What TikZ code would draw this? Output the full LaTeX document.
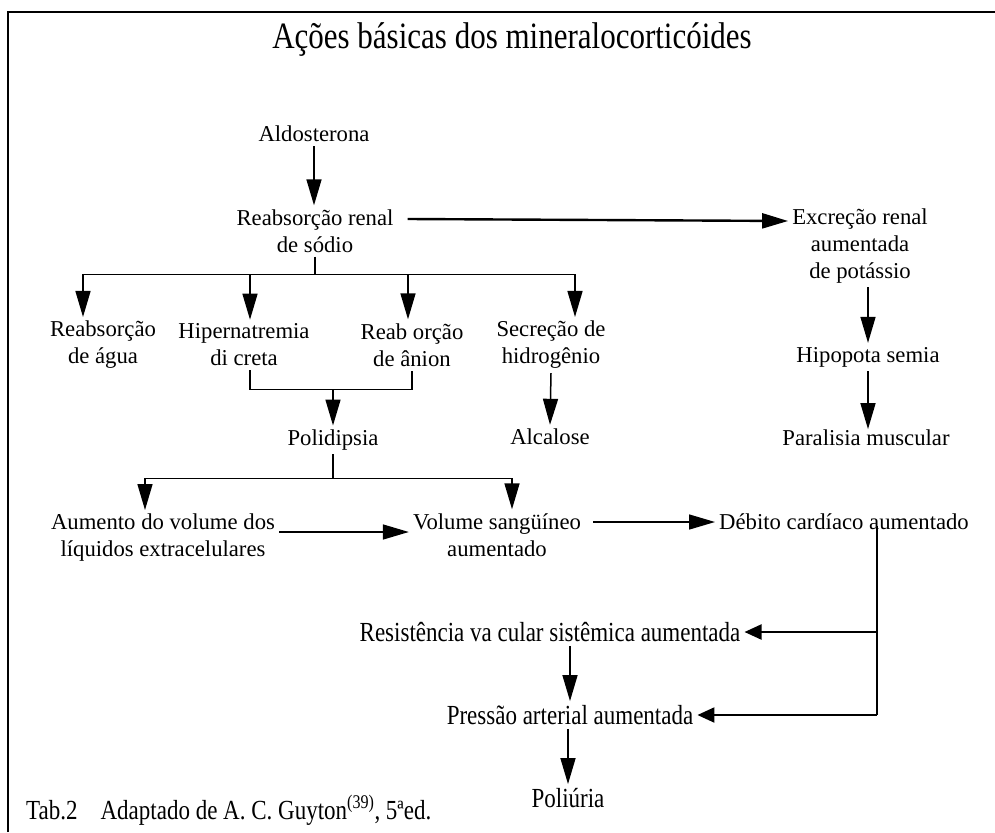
\documentclass[tikz,border=0pt]{standalone}
\usepackage{fontspec}
\setmainfont{Liberation Serif}
\usepackage{graphicx}
\usetikzlibrary{arrows.meta}
\newcommand{\tallbox}[1]{\scalebox{1}[1.2]{#1}}

\begin{document}
\begin{tikzpicture}[x=1pt, y=-1pt,
  every node/.style={font=\fontsize{22.7}{27}\selectfont, inner sep=4pt},
  ml/.style={align=center},
  cond/.style={font=\fontsize{23}{27}\selectfont},
  link/.style={line width=1.5pt},
  arr/.style={link, -{Triangle[length=26pt,width=15pt]}},
  sidearr/.style={line width=2.2pt, -{Triangle[length=17pt,width=15pt]}},
  bigarr/.style={line width=2.4pt, -{Triangle[length=26pt,width=15pt]}}]
  \useasboundingbox (0,0) rectangle (995,832);
  \draw[line width=2.4pt] (8,832) -- (8,12) -- (995,12);
  \node[font=\fontsize{31}{36}\selectfont] (ttl) at (512,40) {\tallbox{Ações básicas dos mineralocorticóides}};
  % left column
  \node (ald) at (314,134) {Aldosterona};
  \node[ml] (rrs) at (315,231) {Reabsorção renal\\de sódio};
  \node[ml] (rag) at (103,345) {Reabsorção\\de água};
  \node[ml] (hip) at (244,345) {Hipernatremia\\di creta};
  \node[ml] (ran) at (412,345) {Reab orção\\de ânion};
  \node[ml] (sec) at (551,345) {Secreção de\\hidrogênio};
  \node (alc) at (550,437) {Alcalose};
  \node (pol) at (333,440) {Polidipsia};
  \node[ml] (aum) at (163,538) {Aumento do volume dos\\líquidos extracelulares};
  \node[ml] (vol) at (497,535) {Volume sangüíneo\\aumentado};
  \node (deb) at (844,522) {Débito cardíaco aumentado};
  % right column
  \node[ml] (exc) at (860,246) {Excreção renal\\aumentada\\de potássio};
  \node (hipo) at (868,357) {Hipopota semia};
  \node (par) at (866,438) {Paralisia muscular};
  % bottom
  \node[cond] (res) at (550,632) {\tallbox{Resistência va cular sistêmica aumentada}};
  \node[cond] (pre) at (570,715) {\tallbox{Pressão arterial aumentada}};
  \node[cond] (pou) at (568,798) {\tallbox{Poliúria}};
  \node[cond, anchor=west] (tab) at (22,810) {\tallbox{Tab.2\quad Adaptado de A. C. Guyton\textsuperscript{(39)}, 5ªed.}};

  \draw[arr] (ald.south) -- (ald.south |- rrs.north);
  \draw[bigarr] ([shift={(10,-12)}]rrs.east) -- ([shift={(0,-25)}]exc.west);
  \draw[link] (rrs.south) -- ++(0,18) coordinate (br1);
  \draw[arr] (br1) -| ([xshift=-20pt]rag.north);
  \draw[arr] (br1) -| ([xshift=6pt]hip.north);
  \draw[arr] (br1) -| ([xshift=-4pt]ran.north);
  \draw[arr] (br1) -| ([xshift=24pt]sec.north);
  \draw[arr] (sec.south) -- (alc.north);
  \draw[link] ([xshift=6pt]hip.south) -- ++(0,19) coordinate (bk1) -| (ran.south);
  \draw[arr] (bk1 -| pol.north) -- (pol.north);
  \draw[link] (pol.south) -- ++(0,24) coordinate (br2);
  \draw[arr] (br2) -| ([xshift=-18pt]aum.north);
  \draw[arr] (br2) -| ([xshift=15pt]vol.north);
  \draw[arr] ([yshift=6pt]aum.east) -- ([yshift=6pt]aum.east -| vol.west);
  \draw[arr] ([xshift=8pt]vol.east |- deb.west) -- (deb.west);
  \draw[arr] (hipo.north |- exc.south) -- (hipo.north);
  \draw[arr] (hipo.south) -- ++(0,58);
  \draw[link] ([xshift=33pt,yshift=8pt]deb.south) coordinate (dv) -- (dv |- pre.east);
  \draw[sidearr] (dv |- res.east) -- (res.east);
  \draw[sidearr] (dv |- pre.east) -- (pre.east);
  \draw[arr] (pre.north |- res.south) -- (pre.north);
  \draw[arr] (pou.north |- pre.south) -- (pou.north);
\end{tikzpicture}
\end{document}
